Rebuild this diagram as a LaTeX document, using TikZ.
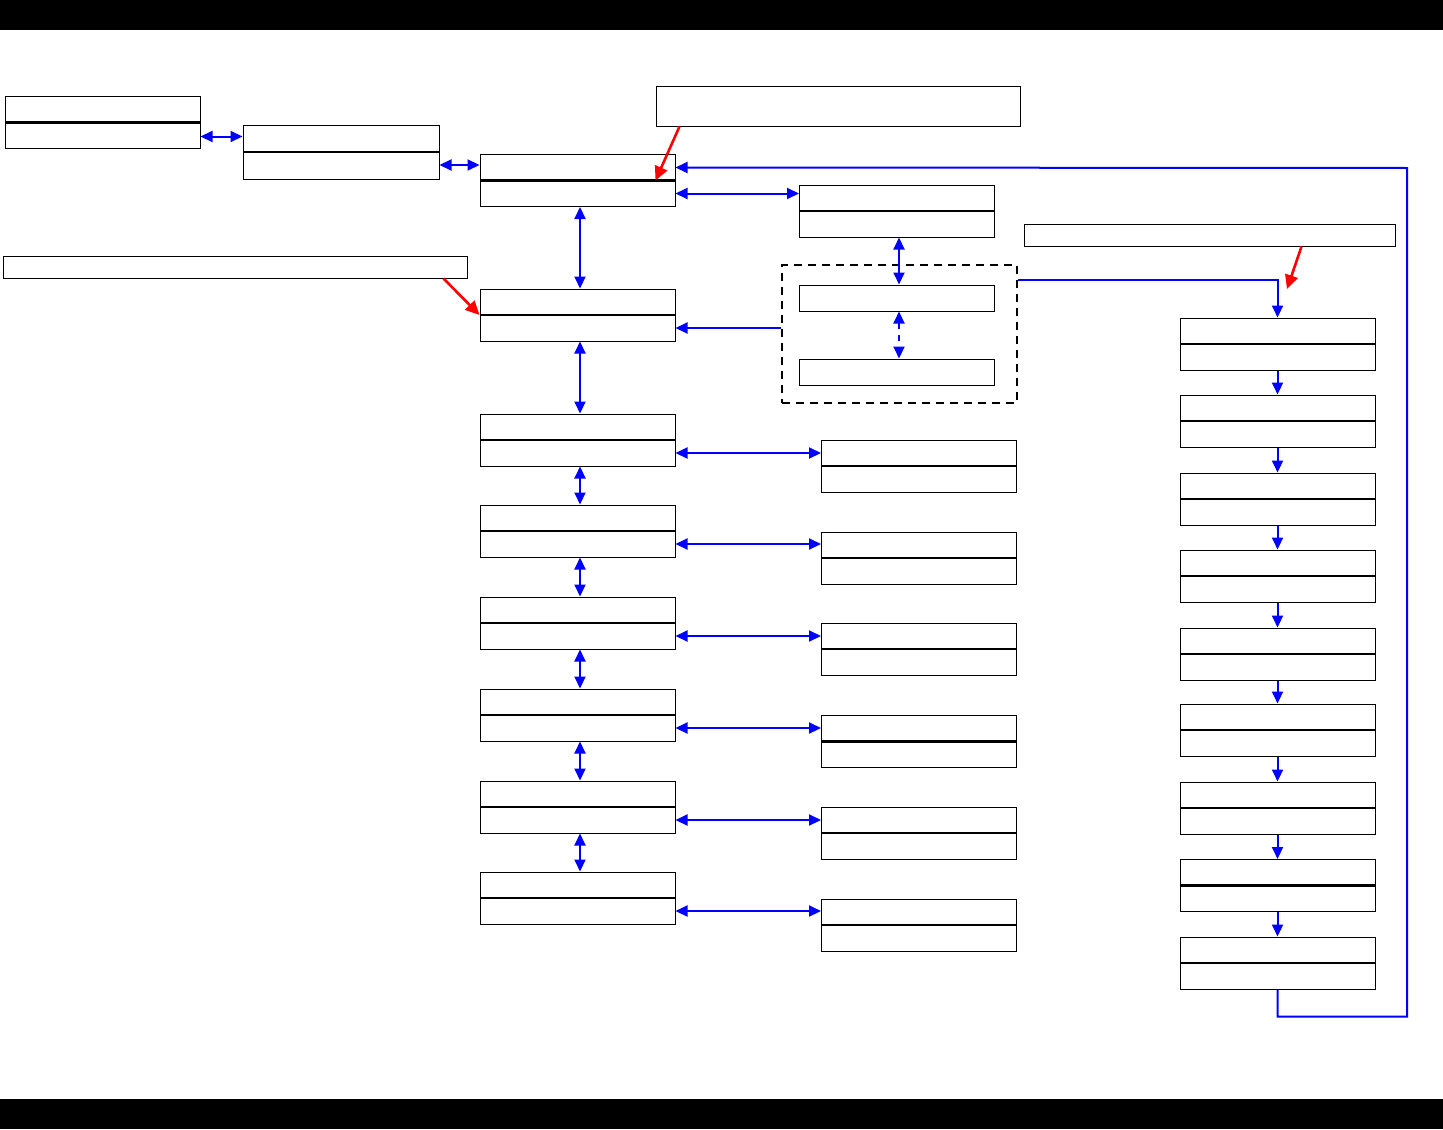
\documentclass[tikz,border=0pt]{standalone}
\usetikzlibrary{arrows.meta,calc}

\begin{document}
\begin{tikzpicture}[x=0.5pt,y=-0.5pt,
    blk/.style={draw,line width=0.5pt,inner sep=0pt,minimum width=97.5pt,minimum height=26pt},
    split/.style={blk,path picture={\draw[line width=1.1pt] (path picture bounding box.west) -- (path picture bounding box.east);}},
    note/.style={draw,line width=0.5pt,inner sep=0pt},
    link/.style={blue,line width=1pt,{Triangle[length=6pt,width=5.5pt]}-{Triangle[length=6pt,width=5.5pt]}},
    arr/.style={blue,line width=1pt,-{Triangle[length=6pt,width=5.5pt]}},
    hint/.style={red,line width=1.3pt,-{Triangle[length=7pt,width=6.5pt]}}]
    \useasboundingbox (0,0) rectangle (1443,1129);
    \fill[black] (0,0) rectangle (1443,30);
    \fill[black] (0,1099) rectangle (1443,1129);

    % notes
    \node[note,minimum width=182pt,minimum height=19.5pt] (n1) at (838,106.5) {};
    \node[note,minimum width=232pt,minimum height=11pt] (n2) at (235,267) {};
    \node[note,minimum width=185.5pt,minimum height=11pt] (n3) at (1209.5,235) {};

    % top left chain
    \node[split,minimum height=25.5pt] (a) at (102.5,122.5) {};
    \node[split,minimum width=98pt,minimum height=27pt] (b) at (341,152) {};

    % main column
    \node[split] (m1) at (577.5,180.5) {};
    \node[split] (m2) at (577.5,315) {};
    \node[split] (m3) at (577.5,440) {};
    \node[split] (m4) at (577.5,531) {};
    \node[split] (m5) at (577.5,623) {};
    \node[split] (m6) at (577.5,715) {};
    \node[split] (m7) at (577.5,807) {};
    \node[split] (m8) at (577.5,898) {};

    % side column
    \node[split] (c) at (897,211) {};
    \node[split] (r1) at (919,466) {};
    \node[split] (r2) at (919,558) {};
    \node[split] (r3) at (919,649) {};
    \node[split] (r4) at (919,741.5) {};
    \node[split] (r5) at (919,833) {};
    \node[split] (r6) at (919,925) {};

    % dashed group
    \node[draw,line width=1pt,dash pattern=on 4pt off 3pt,inner sep=0pt,minimum width=117.5pt,minimum height=69pt] (grp) at (899.5,334) {};
    \node[blk,minimum height=13pt] (d1) at (897,298) {};
    \node[blk,minimum height=13pt] (d2) at (897,372) {};

    % right column
    \foreach \i/\y in {1/344,2/421,3/499,4/576,5/654,6/730,7/808,8/885.5,9/963}
        \node[split] (f\i) at (1277.5,\y) {};

    % connectors
    \draw[link] ([yshift=-7pt]a.east) -- ([yshift=-7pt]a.east -| b.west);
    \draw[link] ([yshift=-6.5pt]b.east) -- ([yshift=-6.5pt]b.east -| m1.west);
    \draw[link] ([yshift=-6.5pt]m1.east) -- ([yshift=-6.5pt]m1.east -| c.west);
    \draw[link] ([xshift=1.25pt]m1.south) -- ([xshift=1.25pt]m2.north);
    \foreach \p/\q in {m2/m3,m3/m4,m4/m5,m5/m6,m6/m7,m7/m8}
        \draw[link] ([xshift=1.25pt]\p.south) -- ([xshift=1.25pt]\q.north);
    \foreach \p/\q in {m3/r1,m4/r2,m5/r3,m6/r4,m7/r5,m8/r6}
        \draw[link] ([yshift=-6.5pt]\p.east) -- ([yshift=-6.5pt]\p.east -| \q.west);
    \draw[link] ([xshift=1pt]c.south) -- ([xshift=1pt]d1.north);
    \draw[link,dashed] ([xshift=1pt]d1.south) -- ([xshift=1pt]d2.north);
    \coordinate (m2lo) at ([yshift=-6.5pt]m2.east);
    \draw[arr] (m2lo -| grp.west) -- (m2lo);
    \draw[arr] ([yshift=-8pt]grp.north east) -| (f1.north);
    \foreach \p/\q in {f1/f2,f2/f3,f3/f4,f4/f5,f5/f6,f6/f7,f7/f8,f8/f9}
        \draw[arr] (\p.south) -- (\q.north);
    \coordinate (m1hi) at ([yshift=6.5pt]m1.east);
    \draw[arr] (f9.south) -- ++(0,27) -| (1407,168) -- (m1hi);

    % red pointers
    \coordinate (n3tip) at (1287,289);
    \draw[hint] ([xshift=12pt]n1.south west) -- ([xshift=-10pt]m1.east);
    \draw[hint] ([xshift=-12pt]n2.south east) -- (m2.west);
    \draw[hint] ([xshift=46pt]n3.south) -- (n3tip);
\end{tikzpicture}
\end{document}
